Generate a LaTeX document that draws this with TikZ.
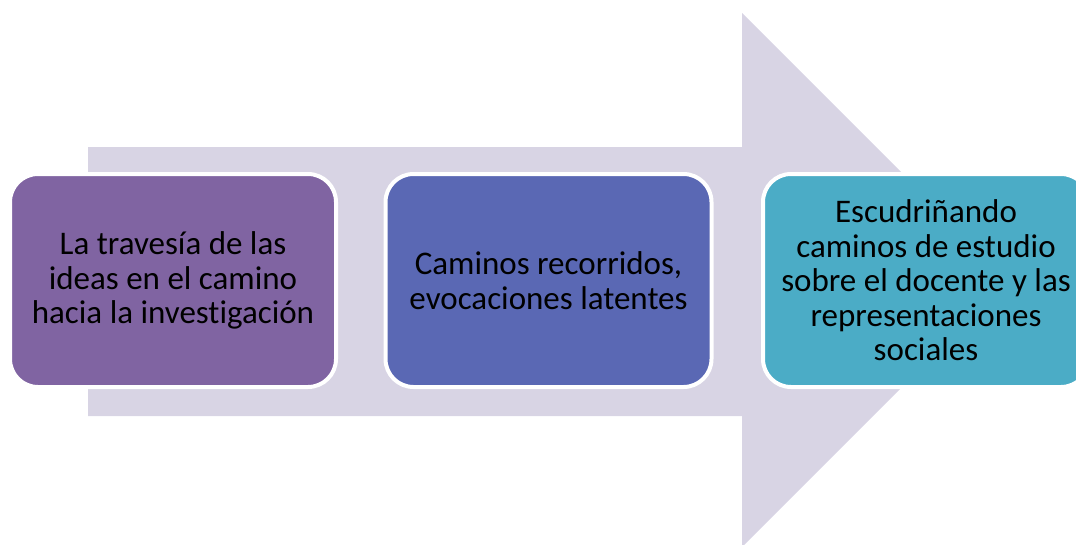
\documentclass[tikz,border=0pt]{standalone}
\usepackage{fontspec}
\setmainfont{Carlito}[Ligatures=NoCommon]
\definecolor{arrowfill}{HTML}{D8D4E4}
\definecolor{cone}{HTML}{8064A2}
\definecolor{ctwo}{HTML}{5A68B4}
\definecolor{cthree}{HTML}{4BACC6}
\tikzset{
  stagebox/.style={draw=white, line width=4pt, rounded corners=28pt,
    minimum width=326pt, minimum height=213pt, align=center, inner sep=0pt,
    text=black, font=\fontsize{33}{34.5}\selectfont}
}
\begin{document}
\begin{tikzpicture}[x=1pt,y=-1pt]
\useasboundingbox (0,0) rectangle (1076,544);
\clip (0,0) rectangle (1076,544);
\fill[arrowfill] (88,147) -- (742,147) -- (742,13) -- (1009,280) -- (742,547) -- (742,416) -- (88,416) -- cycle;
\node[stagebox, fill=cone] (b1) at (173,280.5) {La travesía de las\\ideas en el camino\\hacia la investigación};
\node[stagebox, fill=ctwo] (b2) at (548.5,280.5) {Caminos recorridos,\\evocaciones latentes};
\node[stagebox, fill=cthree] (b3) at (926,280.5) {Escudriñando\\caminos de estudio\\sobre el docente y las\\representaciones\\sociales};
\end{tikzpicture}
\end{document}
